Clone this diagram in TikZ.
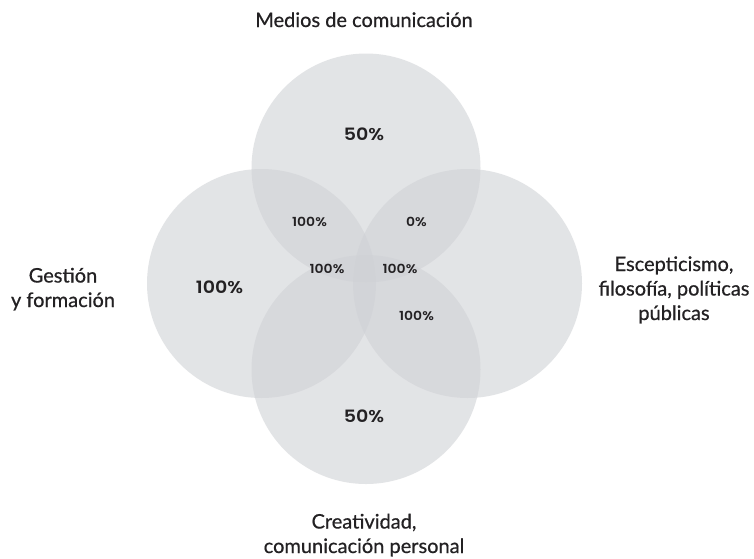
\documentclass[tikz,border=0pt]{standalone}
\usepackage{fontspec}
\setmainfont{Lato}
\newfontfamily\labfont{Lato}[FakeBold=0.6]
\newfontfamily\numfont{Poppins SemiBold}[FakeStretch=1.12]
\definecolor{circfill}{RGB}{208,210,214}
\definecolor{txt}{RGB}{35,33,35}
\begin{document}
\begin{tikzpicture}[x=1pt,y=-1pt,
  venn/.style={fill=circfill,fill opacity=0.6,draw=none},
  lab/.style={text=txt,font=\labfont\fontsize{20}{24.5}\selectfont,align=center,inner sep=0pt,anchor=base},
  big/.style={text=txt,font=\numfont\fontsize{17}{19}\selectfont,inner sep=0pt},
  small/.style={text=txt,font=\numfont\fontsize{12.5}{14}\selectfont,inner sep=0pt}]
\useasboundingbox[fill=white] (0,0) rectangle (754,558);
\coordinate (cT) at (366,168);
\coordinate (cL) at (261.5,283.5);
\coordinate (cR) at (467.5,283.5);
\coordinate (cB) at (366,369.5);
\fill[venn] (cT) circle[radius=114.5];
\fill[venn] (cL) circle[radius=114.5];
\fill[venn] (cR) circle[radius=114.5];
\fill[venn] (cB) circle[radius=114.5];
\node[big] (pT) at (364,134) {50\%};
\node[big] (pB) at (364,416) {50\%};
\node[big] (pL) at (219.5,287) {100\%};
\node[small] (pTL) at (309.5,222) {100\%};
\node[small] (pTR) at (416.5,222) {0\%};
\node[small] (pCL) at (327,269) {100\%};
\node[small] (pCR) at (400,269) {100\%};
\node[small] (pBR) at (416.5,316) {100\%};
\node[lab] (lT) at (364,27) {Medios de comunicación};
\node[lab] (lL) at (63,307) {Gestión\\y formación};
\node[lab] (lR) at (674,320) {Escepticismo,\\filosofía, políticas\\públicas};
\node[lab] (lB) at (364,553) {Creatividad,\\comunicación personal};
\end{tikzpicture}
\end{document}
